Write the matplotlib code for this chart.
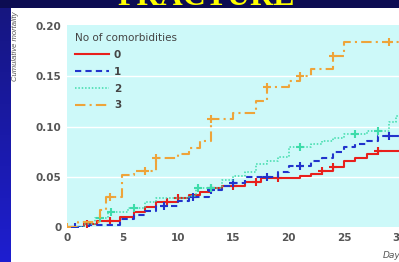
import numpy as np
import matplotlib.pyplot as plt

# --- data (day, cumulative mortality) ---
days_0 = [0, 1.5, 2.7, 4.8, 6, 7, 8, 10, 11, 12, 13, 14, 16, 17.5, 21, 22, 23, 24, 25, 26, 27, 28, 32]
mort_0 = [0, 0.003, 0.006, 0.010, 0.015, 0.020, 0.025, 0.029, 0.032, 0.035, 0.039, 0.041, 0.045, 0.049,
          0.051, 0.053, 0.056, 0.060, 0.066, 0.069, 0.073, 0.076, 0.076]
cens_0 = [1.8, 3.9, 9, 10, 13, 15, 17, 19, 23, 24, 28]

days_1 = [0, 2, 4.8, 6, 7, 8, 10, 11, 12.8, 14, 15, 16, 19, 20, 22, 23, 24, 25, 26, 27, 28, 30, 32]
mort_1 = [0, 0.002, 0.008, 0.012, 0.016, 0.021, 0.026, 0.030, 0.037, 0.041, 0.044, 0.050, 0.055,
          0.061, 0.066, 0.069, 0.075, 0.080, 0.083, 0.086, 0.091, 0.093, 0.093]
cens_1 = [0.7, 8.7, 11.4, 13, 15, 18, 21, 29]

days_2 = [0, 1.5, 2.5, 3.7, 5.5, 7, 8, 11, 11.6, 14, 15, 16, 17, 18, 19, 20, 22, 23, 24, 25, 27, 29, 29.7, 32]
mort_2 = [0, 0.003, 0.009, 0.015, 0.019, 0.025, 0.029, 0.031, 0.039, 0.047, 0.051, 0.055, 0.063, 0.066,
          0.070, 0.080, 0.083, 0.086, 0.089, 0.093, 0.096, 0.104, 0.110, 0.110]
cens_2 = [3, 4, 6, 11.8, 13, 21, 26, 28]

days_3 = [0, 1, 3, 3.5, 5, 6, 8, 10, 11, 12, 13, 15, 17, 18, 20, 21, 22, 24, 25, 32]
mort_3 = [0, 0.005, 0.017, 0.030, 0.052, 0.056, 0.069, 0.073, 0.079, 0.086, 0.107, 0.113, 0.125, 0.139,
          0.145, 0.150, 0.157, 0.170, 0.184, 0.184]
cens_3 = [0, 3.9, 7, 8, 13, 18, 21, 24, 29]

labels = ["0", "1", "2", "3"]
colors = ["#e8201c", "#2233cc", "#3ddcaa", "#eea43a"]
styles = ["-", (0, (3, 2)), (0, (1, 1.2)), (0, (5, 2, 1, 2))]
widths = [1.5, 1.5, 1.1, 1.5]

series = [(days_0, mort_0, cens_0), (days_1, mort_1, cens_1),
          (days_2, mort_2, cens_2), (days_3, mort_3, cens_3)]

fig = plt.figure(figsize=(3.99, 2.62), dpi=100, facecolor="white")

# slide decoration: navy top band with title, blue strip on the left
top = fig.add_axes([0, 1 - 8 / 262, 1, 8 / 262])
top.set_facecolor("#0c0c52")
top.set_xticks([]); top.set_yticks([])
for s in top.spines.values():
    s.set_visible(False)
fig.text(0.518, 1 - 5 / 262, "FRACTURE", color="#ffff00", fontsize=23, fontweight="bold",
         family="Liberation Serif", ha="center", va="baseline")

left = fig.add_axes([0, 0, 11 / 399, 1 - 8 / 262])
grad = np.linspace(0, 1, 100).reshape(-1, 1)
left.imshow(grad, aspect="auto", cmap=plt.matplotlib.colors.LinearSegmentedColormap.from_list(
    "strip", ["#1e1ed0", "#161680"]), origin="lower")
left.set_xticks([]); left.set_yticks([])
for s in left.spines.values():
    s.set_visible(False)

# main chart
ax = fig.add_axes([67 / 399, 35 / 262, 355 / 399, 202 / 262])
ax.set_facecolor("#cdf9f9")
for (d, m, c), lab, col, ls, lw in zip(series, labels, colors, styles, widths):
    ax.plot(d, m, drawstyle="steps-post", color=col, linestyle=ls, lw=lw, label=lab)
    cy = [m[np.searchsorted(d, x, side="right") - 1] for x in c]
    ax.plot(c, cy, "+", color=col, ms=6, mew=1.5, linestyle="none")

ax.set_xlim(0, 32)
ax.set_ylim(0, 0.201)
ax.set_xticks([0, 5, 10, 15, 20, 25, 30])
ax.set_yticks([0, 0.05, 0.10, 0.15, 0.20])
ax.set_yticklabels(["0", "0.05", "0.10", "0.15", "0.20"])
ax.tick_params(length=0, labelsize=7.5, colors="#555555", pad=4)
for t in ax.get_xticklabels() + ax.get_yticklabels():
    t.set_fontweight("bold")
for s in ax.spines.values():
    s.set_visible(False)
for yv in [0.05, 0.10, 0.15]:
    ax.axhline(yv, color="white", lw=1, zorder=0.5)

leg = ax.legend(title="No of comorbidities", loc="upper left", frameon=False,
                fontsize=7.5, title_fontsize=7.5, handlelength=3.2, handletextpad=0.5,
                labelspacing=0.65, borderaxespad=0.4, alignment="left")
leg.get_title().set_color("#444444")
for t in leg.get_texts():
    t.set_color("#444444"); t.set_fontweight("bold")

fig.text(16 / 399, 1 - 46 / 262, "Cumulative mortality", rotation=90, fontsize=5.5,
         family="Liberation Sans", style="italic", color="#555555", ha="center", va="center")
fig.text(383 / 399, 1 - 251 / 262, "Days", fontsize=6.5, style="italic",
         color="#555555", ha="left", va="top")

fig.savefig("out.png", dpi=100, facecolor=fig.get_facecolor())
